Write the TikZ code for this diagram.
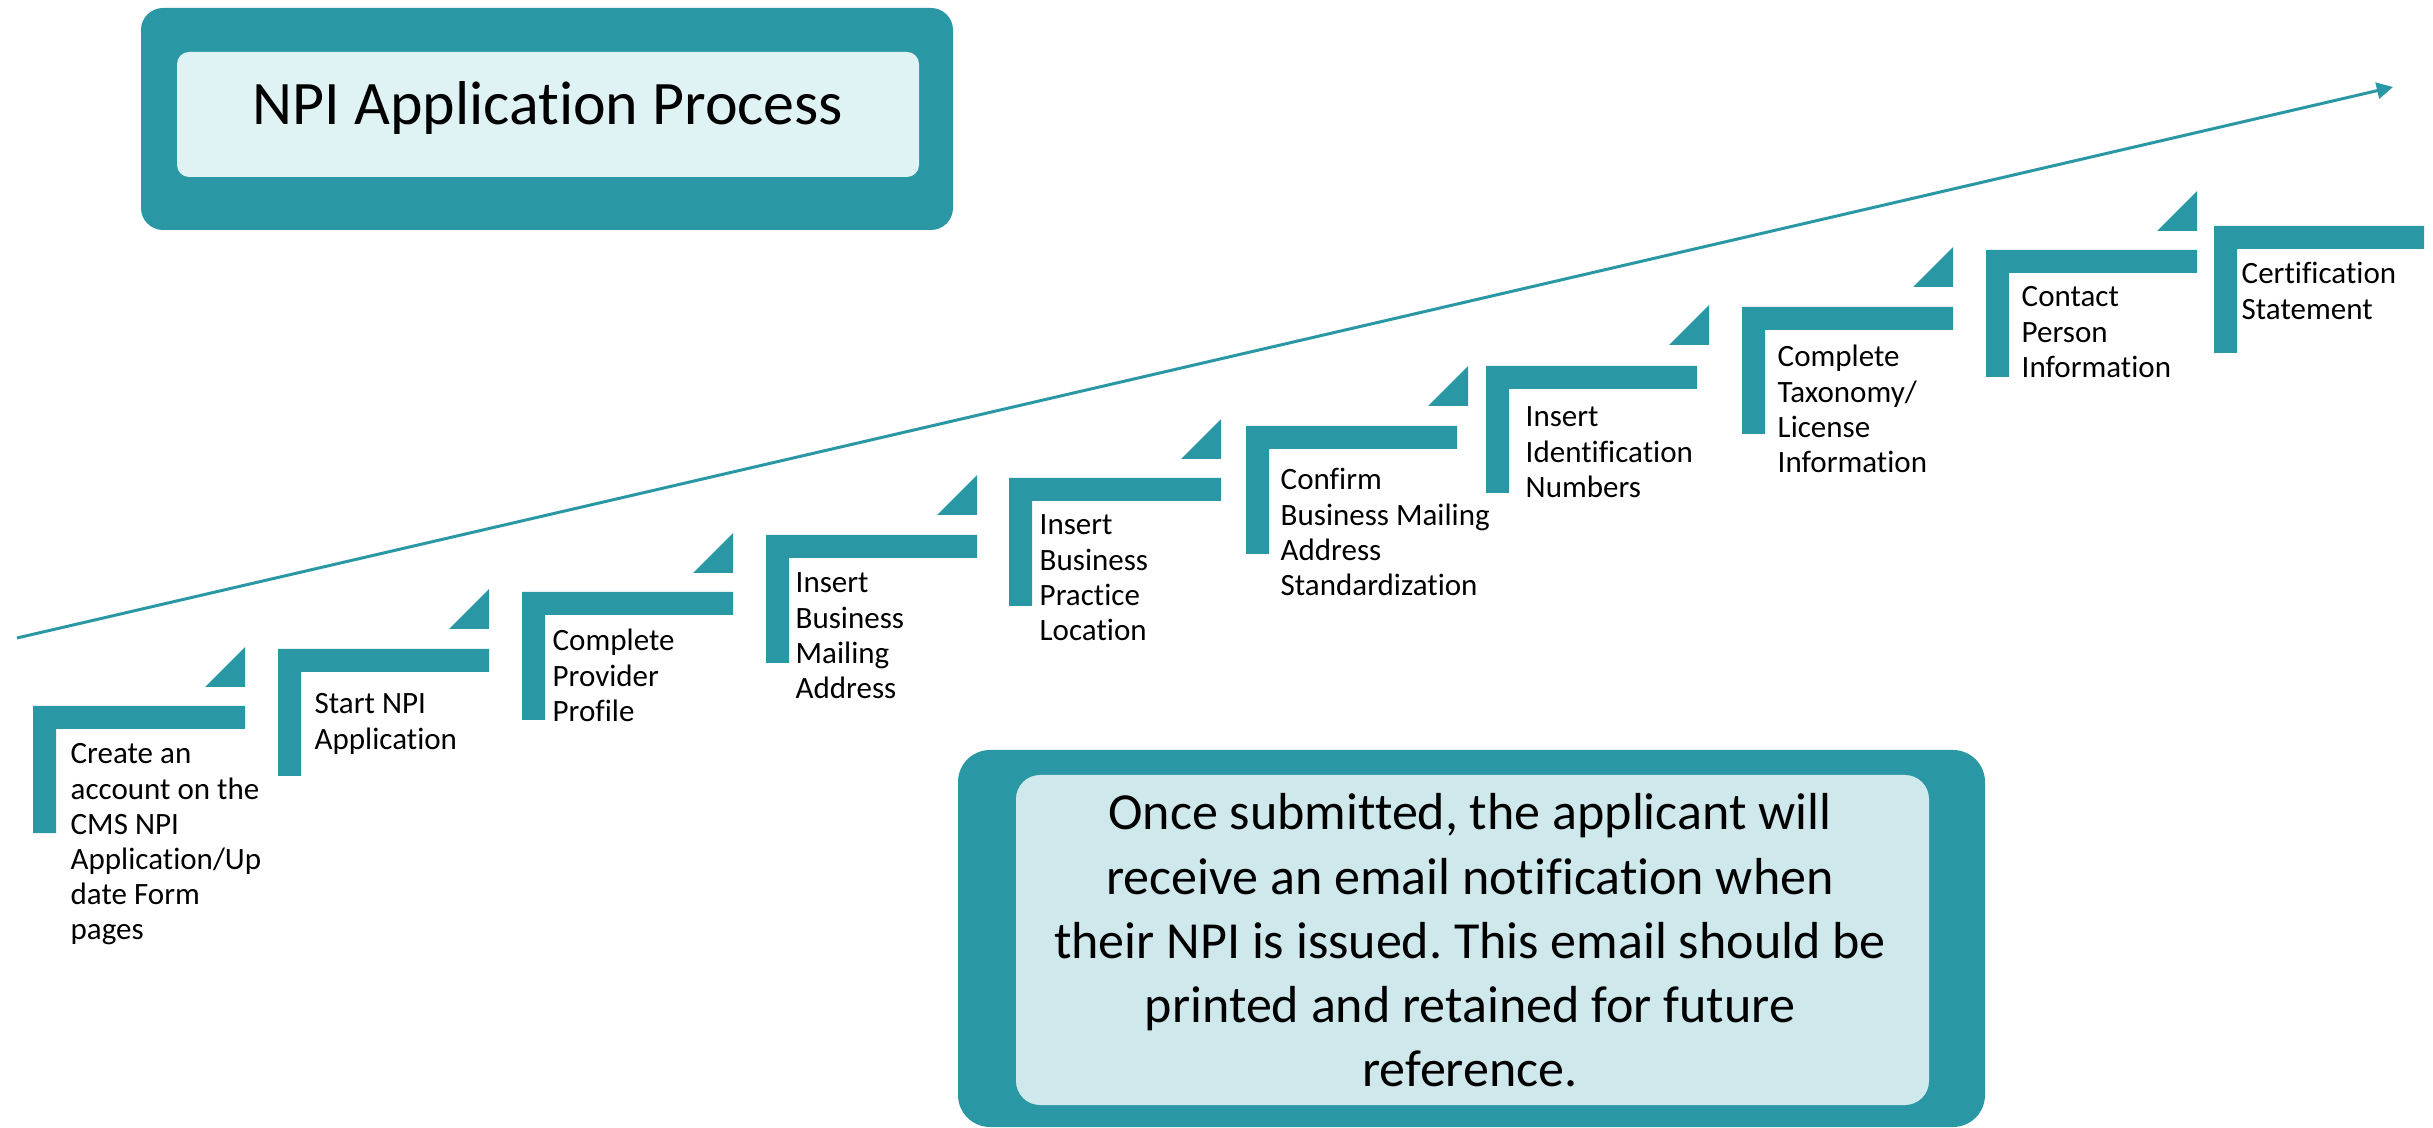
\documentclass[tikz,border=0pt]{standalone}
\usepackage{fontspec}
\setmainfont{Carlito}[Ligatures={NoCommon,NoRare,NoContextual}]
\usetikzlibrary{arrows.meta}
\definecolor{tealmain}{RGB}{42,151,164}
\definecolor{titlefill}{RGB}{223,242,244}
\definecolor{notefill}{RGB}{207,232,236}
% L-shaped step: left, top, right, bottom
\newcommand{\stepL}[4]{\fill[tealmain] (#1,#2) -- (#3,#2) -- (#3,#2+23) -- (#1+23,#2+23) -- (#1+23,#4) -- (#1,#4) -- cycle;}
% small triangle: right, bottom
\newcommand{\steptri}[2]{\fill[tealmain] (#1-40,#2) -- (#1,#2) -- (#1,#2-40) -- cycle;}
\newcommand{\stxt}[1]{\parbox[t]{70mm}{\raggedright\fontsize{8.82pt}{9.96pt}\selectfont #1}}
\tikzset{steplabel/.style={anchor=base west, inner sep=0pt, text=black}}
\frenchspacing
\begin{document}
\begin{tikzpicture}[x=0.01cm, y=-0.01cm]
\useasboundingbox (0,0) rectangle (2433,1128);
\fill[white] (0,0) rectangle (2433,1128);

% title box
\fill[tealmain, rounded corners=0.22cm] (141,8) rectangle (953,230);
\fill[titlefill, rounded corners=0.12cm] (177,52) rectangle (919,177);
\node[anchor=base, inner sep=0pt] (title) at (548,125) {\fontsize{17.6pt}{20pt}\selectfont NPI Application Process};

% rising arrow
\coordinate (arrowstart) at (17,638);
\coordinate (arrowend) at (2393,87);
\draw[tealmain, line width=0.85pt, -{Triangle[length=4.6pt,width=4.6pt]}] (arrowstart) -- (arrowend);

% steps
\stepL{33}{706}{245}{833}   \steptri{245}{687}
\stepL{278}{649}{489}{776}  \steptri{489}{629}
\stepL{522}{592}{733}{720}  \steptri{733}{573}
\stepL{766}{535}{977}{663}  \steptri{977}{515}
\stepL{1009}{478}{1221}{606} \steptri{1221}{459}
\stepL{1246}{426}{1457}{554} \steptri{1468}{406}
\stepL{1486}{366}{1697}{493} \steptri{1709}{345}
\stepL{1742}{307}{1953}{434} \steptri{1953}{287}
\stepL{1986}{250}{2197}{377} \steptri{2197}{231}
\stepL{2214}{226}{2424}{353}

\node[steplabel] (s1) at (70,764) {\stxt{Create an\\account on the\\CMS NPI\\Application/Up\\date Form\\pages}};
\node[steplabel] (s2) at (314,714) {\stxt{Start NPI\\Application}};
\node[steplabel] (s3) at (552,651) {\stxt{Complete\\Provider\\Profile}};
\node[steplabel] (s4) at (795,593) {\stxt{Insert\\Business\\Mailing\\Address}};
\node[steplabel] (s5) at (1039,535) {\stxt{Insert\\Business\\Practice\\Location}};
\node[steplabel] (s6) at (1280,490) {\stxt{Confirm\\Business Mailing\\Address\\Standardization}};
\node[steplabel] (s7) at (1525,427) {\stxt{Insert\\Identification\\Numbers}};
\node[steplabel] (s8) at (1777,367) {\stxt{Complete\\Taxonomy/\\License\\Information}};
\node[steplabel] (s9) at (2021,307) {\stxt{Contact\\Person\\Information}};
\node[steplabel] (s10) at (2241,284) {\stxt{Certification\\Statement}};

% note box
\fill[tealmain, rounded corners=0.32cm] (958,750) rectangle (1985,1127);
\fill[notefill, rounded corners=0.24cm] (1016,775) rectangle (1929,1105);
\node[anchor=base, inner sep=0pt] (note) at (1470,830) {\parbox[t]{120mm}{\centering\fontsize{14.8pt}{18.2pt}\selectfont Once submitted, the applicant will\\receive an email notification when\\their NPI is issued. This email should be\\printed and retained for future\\reference.}};
\end{tikzpicture}
\end{document}
